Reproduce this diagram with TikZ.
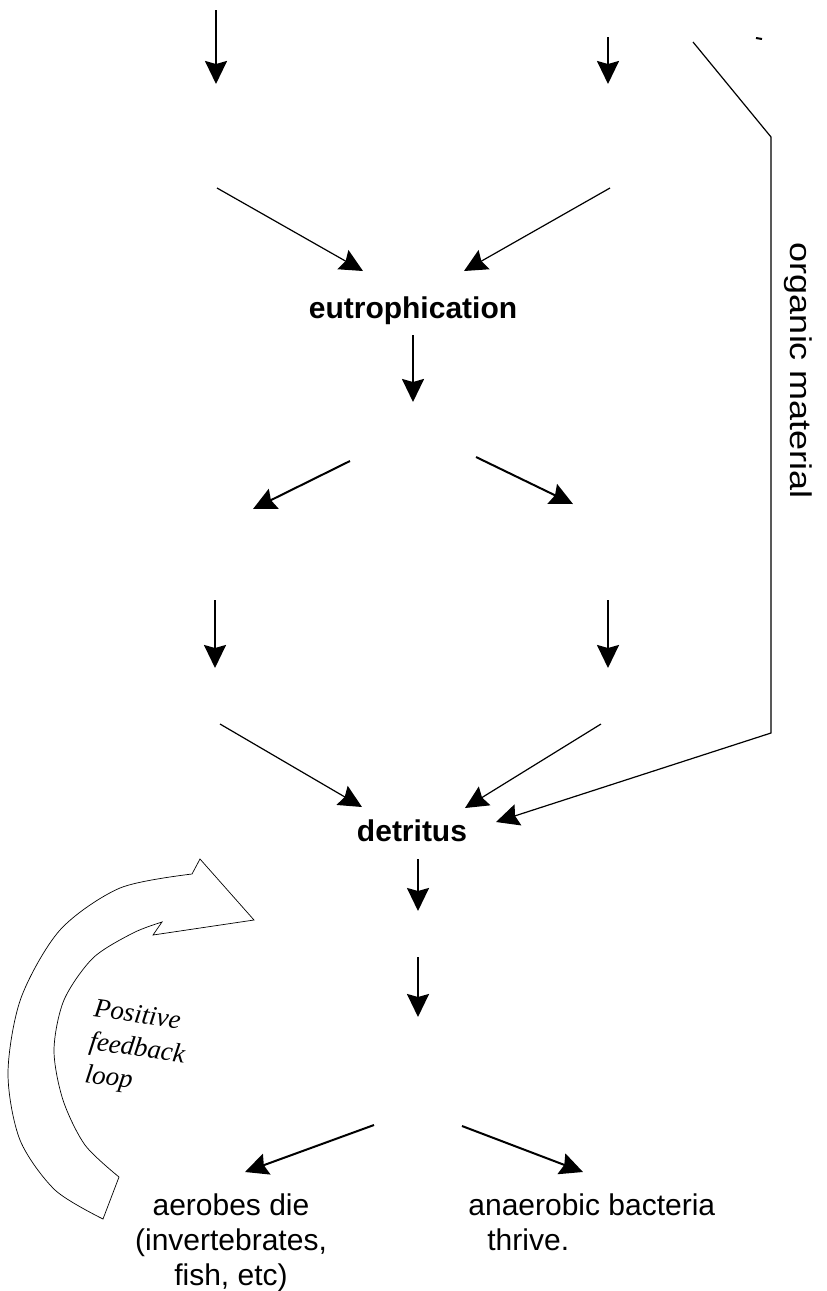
\documentclass[tikz,border=0pt]{standalone}
\usepackage{fontspec}
\setmainfont{Liberation Sans}
\newfontfamily\loopfont{Liberation Serif}
\usetikzlibrary{arrows.meta}

\begin{document}
\begin{tikzpicture}[x=0.5pt,y=-0.5pt,
  every node/.style={inner sep=0pt},
  bigarrow/.style={line width=1pt,-{Stealth[length=11.5pt,width=11pt,inset=1.5pt]}},
  thinarrow/.style={line width=0.6pt,-{Stealth[length=11.5pt,width=11pt,inset=1.5pt]}},
  txt/.style={font=\fontsize{15}{17.5}\selectfont},
  keyword/.style={font=\fontsize{15}{17.5}\selectfont\bfseries}]
  \useasboundingbox (0,0) rectangle (826,1291);
  \node[keyword,anchor=base] (eutro) at (413,318) {eutrophication};
  \node[keyword,anchor=base] (detritus) at (412,841) {detritus};
  \node[txt,align=center,anchor=north] (aerobes) at (231,1193) {aerobes die\\(invertebrates,\\fish, etc)};
  \node[txt,align=left,anchor=north west] (anaerobes) at (468,1193) {anaerobic bacteria\\\hspace*{9.5pt}thrive.};
  \node[txt,rotate=-90,xscale=1.2] (organic) at (798,371) {organic material};
  \node[font=\loopfont\itshape\fontsize{13.5}{16.5}\selectfont,align=left,rotate=-8] (loop) at (137,1050) {Positive\\feedback\\loop};
  % arrow ends
  \coordinate (a1) at (216,10);   \coordinate (b1) at (216,84);
  \coordinate (a2) at (608,37);   \coordinate (b2) at (608,84);
  \coordinate (a3) at (217,188);  \coordinate (b3) at (363,271);
  \coordinate (a4) at (610,188);  \coordinate (b4) at (464,271);
  \coordinate (a5) at (413,335);  \coordinate (b5) at (413,402);
  \coordinate (a6) at (350,461);  \coordinate (b6) at (253,509);
  \coordinate (a7) at (476,457);  \coordinate (b7) at (573,504);
  \coordinate (a8) at (215,600);  \coordinate (b8) at (215,668);
  \coordinate (a9) at (608,600);  \coordinate (b9) at (608,668);
  \coordinate (a10) at (220,724); \coordinate (b10) at (362,807);
  \coordinate (a11) at (601,724); \coordinate (b11) at (465,808);
  \coordinate (a13) at (418,859); \coordinate (b13) at (418,911);
  \coordinate (a14) at (418,957); \coordinate (b14) at (418,1017);
  \coordinate (a15) at (374,1125); \coordinate (b15) at (245,1172);
  \coordinate (a16) at (462,1126); \coordinate (b16) at (583,1172);
  % organic material line
  \coordinate (o1) at (693,42);
  \coordinate (o2) at (771,137);
  \coordinate (o3) at (771,733);
  \coordinate (b12) at (496,822);
  \path[bigarrow] (a1) edge (b1)
                  (a2) edge (b2)
                  (a5) edge (b5)
                  (a6) edge (b6)
                  (a7) edge (b7)
                  (a8) edge (b8)
                  (a9) edge (b9)
                  (a13) edge (b13)
                  (a14) edge (b14)
                  (a15) edge (b15)
                  (a16) edge (b16);
  \path[thinarrow] (a3) edge (b3)
                   (a4) edge (b4)
                   (a10) edge (b10)
                   (a11) edge (b11);
  \draw[thinarrow] (o1) -- (o2) -- (o3) -- (b12);
  \draw[line width=1pt] (756,38) -- (762,39);
  % feedback loop arrow
  \draw[line width=0.35pt] (103,1219) -- (119,1177)
    --plot[smooth] coordinates {(119,1177) (85,1145) (63,1100) (54,1050) (64,1000) (93,958) (133,933) (162,922)}
    -- (153,935) -- (254,920) -- (200,859) -- (192,874)
    --plot[smooth] coordinates {(192,874) (120,888) (60,930) (21,998) (8,1073) (20,1140) (55,1190) (103,1219)}
    -- cycle;
\end{tikzpicture}
\end{document}
